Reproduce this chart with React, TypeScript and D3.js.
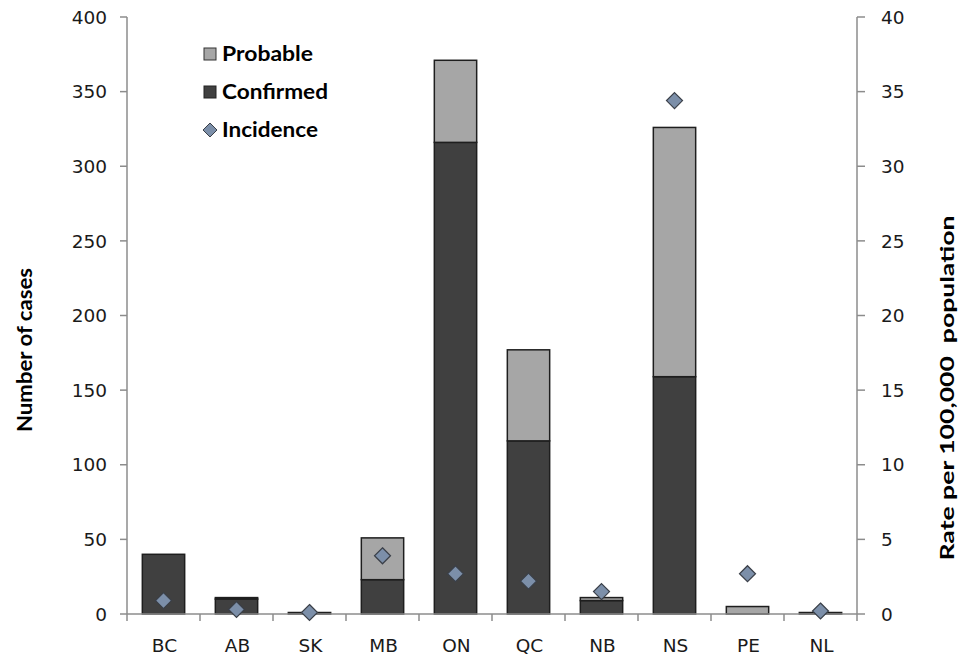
import React from "react";
import * as d3 from "d3";

const categories = ["BC", "AB", "SK", "MB", "ON", "QC", "NB", "NS", "PE", "NL"];
const confirmed = [40, 10, 1, 23, 316, 116, 9, 159, 0, 1];
const probable = [0, 1, 0, 28, 55, 61, 2, 167, 5, 0];
const incidence = [0.9, 0.3, 0.1, 3.9, 2.7, 2.2, 1.5, 34.4, 2.7, 0.2];
const leftTicks = [0, 50, 100, 150, 200, 250, 300, 350, 400];
const rightTicks = [0, 5, 10, 15, 20, 25, 30, 35, 40];

const W = 961;
const H = 657;
const M = { left: 127, right: 857, top: 17, bottom: 614 };

export default function App() {
  const x = d3.scaleBand<string>().domain(categories).range([M.left, M.right]).paddingInner(0.42).paddingOuter(0.21);
  const xb = d3.scaleBand<string>().domain(categories).range([M.left, M.right]);
  const yL = d3.scaleLinear().domain([0, 400]).range([M.bottom, M.top]);
  const yR = d3.scaleLinear().domain([0, 40]).range([M.bottom, M.top]);
  const axisColor = "#8c8c8c";
  const tickFont = "'DejaVu Sans', Verdana, sans-serif";
  const titleFont = "Lato, 'Open Sans', sans-serif";
  const diamond = (cx: number, cy: number, r: number) =>
    `M${cx},${cy - r}L${cx + r},${cy}L${cx},${cy + r}L${cx - r},${cy}Z`;

  return (
    <svg width={W} height={H} style={{ position: "absolute", left: 0, top: 0, background: "#fff" }}>
      {/* bars */}
      {categories.map((c, i) => {
        const x0 = x(c)!;
        const bw = x.bandwidth();
        const c0 = yL(0), c1 = yL(confirmed[i]);
        const p1 = yL(confirmed[i] + probable[i]);
        return (
          <g key={c}>
            {confirmed[i] > 0 && (
              <rect x={x0} y={c1} width={bw} height={c0 - c1} fill="#404040" stroke="#1e1e1e" strokeWidth={1.5} />
            )}
            {probable[i] > 0 && (
              <rect x={x0} y={p1} width={bw} height={c1 - p1} fill="#a6a6a6" stroke="#1e1e1e" strokeWidth={1.5} />
            )}
          </g>
        );
      })}
      {/* left axis */}
      <line x1={M.left} x2={M.left} y1={M.top} y2={M.bottom} stroke={axisColor} strokeWidth={1.5} />
      {leftTicks.map((t) => (
        <g key={t}>
          <line x1={M.left - 7} x2={M.left} y1={yL(t)} y2={yL(t)} stroke={axisColor} strokeWidth={1.5} />
          <text x={M.left - 20} y={yL(t)} dy="0.36em" textAnchor="end" fontFamily={tickFont} fontSize={18.5} fill="#1a1a1a">
            {t}
          </text>
        </g>
      ))}
      {/* right axis */}
      <line x1={M.right} x2={M.right} y1={M.top} y2={M.bottom} stroke={axisColor} strokeWidth={1.5} />
      {rightTicks.map((t) => (
        <g key={t}>
          <line x1={M.right} x2={M.right + 8} y1={yR(t)} y2={yR(t)} stroke={axisColor} strokeWidth={1.5} />
          <text x={M.right + 24} y={yR(t)} dy="0.36em" textAnchor="start" fontFamily={tickFont} fontSize={18.5} fill="#1a1a1a">
            {t}
          </text>
        </g>
      ))}
      {/* bottom axis */}
      <line x1={M.left} x2={M.right} y1={M.bottom} y2={M.bottom} stroke={axisColor} strokeWidth={1.5} />
      {categories.map((c) => (
        <g key={c}>
          <line x1={xb(c)!} x2={xb(c)!} y1={M.bottom} y2={M.bottom + 7} stroke={axisColor} strokeWidth={1.5} />
          <text x={xb(c)! + xb.bandwidth() / 2 + 1} y={645.5} dy="0.36em" textAnchor="middle" fontFamily={tickFont} fontSize={18.5} fill="#1a1a1a">
            {c}
          </text>
        </g>
      ))}
      <line x1={M.right} x2={M.right} y1={M.bottom} y2={M.bottom + 7} stroke={axisColor} strokeWidth={1.5} />
      {/* incidence diamonds */}
      {categories.map((c, i) => (
        <path key={c} d={diamond(xb(c)! + xb.bandwidth() / 2, yR(incidence[i]), 8)} fill="#7c8fa9" stroke="#3a3f48" strokeWidth={1.2} />
      ))}
      {/* axis titles */}
      <text transform={`translate(32,350) rotate(-90)`} textAnchor="middle" fontFamily={titleFont} fontWeight="bold" fontSize={20} fill="#000" textLength={164} lengthAdjust="spacingAndGlyphs">
        Number of cases
      </text>
      <text transform={`translate(954,388) rotate(-90)`} textAnchor="middle" fontFamily={titleFont} fontWeight="bold" fontSize={19} fill="#000" style={{ whiteSpace: "pre" }} textLength={345} lengthAdjust="spacingAndGlyphs">
        {"Rate per 100,000  population"}
      </text>
      {/* legend */}
      <g fontFamily={titleFont} fontWeight="bold" fontSize={20} fill="#000">
        <rect x={204} y={48} width={12} height={12} fill="#a6a6a6" stroke="#333" strokeWidth={1} />
        <text x={222} y={54} dy="0.36em" textLength={91} lengthAdjust="spacingAndGlyphs">Probable</text>
        <rect x={204} y={86} width={12} height={12} fill="#404040" stroke="#222" strokeWidth={1} />
        <text x={222} y={92} dy="0.36em" textLength={106} lengthAdjust="spacingAndGlyphs">Confirmed</text>
        <path d={diamond(210, 130, 7)} fill="#7c8fa9" stroke="#3a3f48" strokeWidth={1} />
        <text x={222} y={130} dy="0.36em" textLength={96} lengthAdjust="spacingAndGlyphs">Incidence</text>
      </g>
    </svg>
  );
}
